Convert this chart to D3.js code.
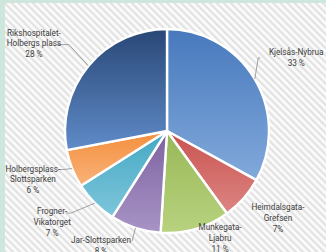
<!DOCTYPE html>
<html><head><meta charset="utf-8">
<script src="https://cdn.jsdelivr.net/npm/d3@7"></script>
<style>html,body{margin:0;padding:0;background:#fff;}svg{display:block;}</style>
</head><body>
<script>
// ---- data ----
const categories = [["Kjelsås-Nybrua"],["Heimdalsgata-","Grefsen"],["Munkegata-","Ljabru"],["Jar-Slottsparken"],["Frogner-","Vikatorget"],["Holbergsplass-","Slottsparken"],["Rikshospitalet-","Holbergs plass"]];
const values = [33, 7, 11, 8, 7, 6, 28];
const pctLabels = ["33 %", "7%", "11 %", "8 %", "7 %", "6 %", "28 %"];

// ---- styles / layout ----
const W = 326, H = 252;
const cx = 167, cy = 131, R = 102;
const colorsTop = ["#4779bd", "#c9524f", "#98b856", "#7d62a0", "#45a8c3", "#f48f3c", "#294776"];
const colorsBot = ["#82a9db", "#dc8683", "#b8d27f", "#a894c6", "#7dc6db", "#f9b27a", "#5f8bc8"];
// label placement: [angle deg from 12 o'clock, distance from centre]
const labelPolar = [[60.5,148.5],[128.1,141],[153.6,119.4],[210,132],[231.6,146.6],[250.1,142.7],[303.3,159.2]];
// leader start relative to label centre, and knee direction
const leaderStart = [[-36,0,-2], null, null, [31,-4,0], [14,-9,5], [27,-10,3], [23,1,12]];
const lineH = 10.8;

const svg = d3.select("body").append("svg").attr("width", W).attr("height", H);
const defs = svg.append("defs");
const pat = defs.append("pattern").attr("id","stripes").attr("patternUnits","userSpaceOnUse")
  .attr("width",5).attr("height",5).attr("patternTransform","rotate(-45)");
pat.append("rect").attr("width",5).attr("height",5).attr("fill","#fbfbfb");
pat.append("rect").attr("width",2.2).attr("height",5).attr("fill","#e2e2e2");

svg.append("rect").attr("width",W).attr("height",H).attr("fill","url(#stripes)");
svg.append("rect").attr("x",0).attr("y",0).attr("width",5).attr("height",H).attr("fill","#cfe6dc");
svg.append("rect").attr("x",0).attr("y",0).attr("width",W).attr("height",3).attr("fill","#cfe6dc");

values.forEach((v,i) => {
  const g = defs.append("linearGradient").attr("id","g"+i).attr("x1",0).attr("y1",0).attr("x2",0).attr("y2",1);
  g.append("stop").attr("offset","0%").attr("stop-color",colorsTop[i]);
  g.append("stop").attr("offset","100%").attr("stop-color",colorsBot[i]);
});

const pie = d3.pie().sort(null).value(d => d);
const arcs = pie(values);
const arc = d3.arc().innerRadius(0).outerRadius(R);

const gp = svg.append("g").attr("transform",`translate(${cx},${cy})`);
gp.selectAll("path").data(arcs).join("path")
  .attr("d", arc)
  .attr("fill", (d,i) => `url(#g${i})`)
  .attr("stroke","#ffffff").attr("stroke-width",2.4).attr("stroke-linejoin","round");

const polar = (deg, r) => [Math.sin(deg*Math.PI/180)*r, -Math.cos(deg*Math.PI/180)*r];

// leaders
arcs.forEach((d,i) => {
  const ls = leaderStart[i];
  if (!ls) return;
  const [lx, ly] = polar(labelPolar[i][0], labelPolar[i][1]);
  const mid = (d.startAngle + d.endAngle)/2;
  const ex = Math.sin(mid)*R, ey = -Math.cos(mid)*R;
  const sx = lx + ls[0], sy = ly + ls[1];
  gp.append("polyline")
    .attr("points", `${sx},${sy} ${sx+ls[2]},${sy} ${ex},${ey}`)
    .attr("fill","none").attr("stroke","#8c8c8c").attr("stroke-width",0.8);
});

// labels
arcs.forEach((d,i) => {
  const [lx, ly] = polar(labelPolar[i][0], labelPolar[i][1]);
  const lines = categories[i].concat([pctLabels[i]]);
  const y0 = ly - (lines.length-1)*lineH/2;
  const t = gp.append("text").attr("text-anchor","middle")
    .attr("font-family","Roboto, 'Liberation Sans', sans-serif").attr("font-size",8.2)
    .attr("fill","#404040");
  lines.forEach((s,k) => {
    t.append("tspan").attr("x",lx).attr("y",y0 + k*lineH).attr("dy","0.35em").text(s);
  });
});
</script>
</body></html>
